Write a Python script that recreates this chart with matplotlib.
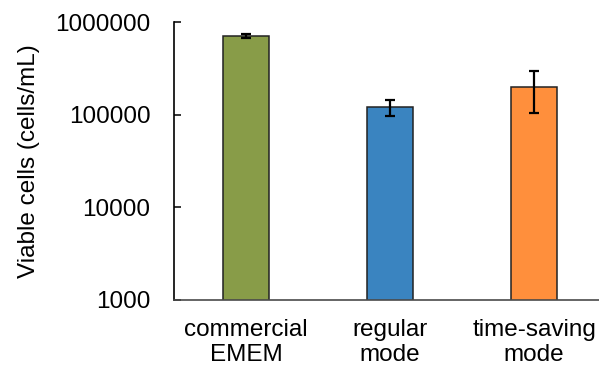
import numpy as np
import matplotlib.pyplot as plt

plt.rcParams['font.family'] = ['Liberation Sans', 'DejaVu Sans']

# viable cell counts per medium
categories = ['commercial\nEMEM', 'regular\nmode', 'time-saving\nmode']
viable = [700000, 120000, 200000]
errors = [35000, 23000, 96000]
colors = ['#889C48', '#3A84C0', '#FF8F3C']

fig = plt.figure(figsize=(5.99, 3.74), dpi=100)
ax = fig.add_axes([0.2905, 0.198, 0.7095, 0.743])

x = np.arange(len(categories))
ax.bar(x, viable, width=0.315, color=colors, edgecolor='#222222', linewidth=1.1,
       yerr=errors, capsize=3.6,
       error_kw=dict(elinewidth=1.6, capthick=1.6, ecolor='black'))

ax.set_yscale('log')
ax.set_ylim(1000, 1000000)
ax.set_xlim(-0.5, 2.45)
ax.set_yticks([1000, 10000, 100000, 1000000])
ax.set_yticklabels(['1000', '10000', '100000', '1000000'])
ax.minorticks_off()
ax.set_xticks(x)
ax.set_xticklabels(categories, linespacing=1.15)

ax.tick_params(axis='y', direction='in', length=5, width=1.1, labelsize=17.5, pad=17)
ax.tick_params(axis='x', length=0, labelsize=17.5, pad=14)
ax.set_ylabel('Viable cells (cells/mL)', fontsize=17.5, labelpad=11)

for side in ['top', 'right']:
    ax.spines[side].set_visible(False)
ax.spines['left'].set_linewidth(1.2)
ax.spines['left'].set_color('black')
ax.spines['bottom'].set_linewidth(1.2)
ax.spines['bottom'].set_color('#4a4a4a')

fig.savefig('out.png', dpi=100)
